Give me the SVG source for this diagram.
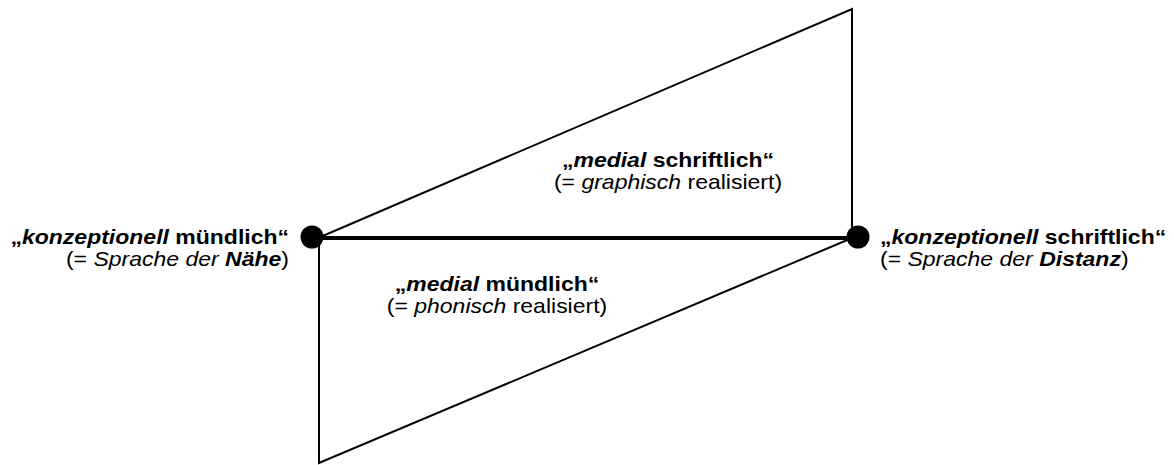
<svg xmlns="http://www.w3.org/2000/svg" width="1174" height="465" viewBox="0 0 1174 465">
  <style>
    .edge { stroke: #000; stroke-width: 2; fill: none; }
    .axis { stroke: #000; stroke-width: 4; fill: none; }
    .dot { fill: #000; }
    text { font-family: "Liberation Sans", Arial, sans-serif; font-size: 20px; fill: #000; }
    .b { font-weight: bold; }
    .i { font-style: italic; }
  </style>
  <rect width="1174" height="465" fill="#fff"/>

  <!-- outline of the two triangles and the central axis -->
  <g id="connectors">
    <polyline class="edge" points="318,238 852,9 852,238"/>
    <polyline class="edge" points="319,238 319,463 852,238"/>
    <line class="axis" x1="312" y1="238" x2="858" y2="238"/>
  </g>

  <!-- labels use a slightly widened sans face -->
  <g id="node-left">
    <circle class="dot" cx="312" cy="237" r="11.5"/>
    <g transform="translate(289,0) scale(1.15,1)">
      <text x="0" y="244" text-anchor="end" class="b">„<tspan class="i">konzeptionell</tspan> mündlich“</text>
      <text x="0" y="266.5" text-anchor="end">(= <tspan class="i">Sprache der </tspan><tspan class="i b">Nähe</tspan>)</text>
    </g>
  </g>

  <g id="node-right">
    <circle class="dot" cx="858" cy="237" r="11.5"/>
    <g transform="translate(880,0) scale(1.15,1)">
      <text x="0" y="244" class="b">„<tspan class="i">konzeptionell</tspan> schriftlich“</text>
      <text x="0" y="266.5">(= <tspan class="i">Sprache der </tspan><tspan class="i b">Distanz</tspan>)</text>
    </g>
  </g>

  <g id="label-medial-schriftlich" transform="translate(668,0) scale(1.15,1)">
    <text x="0" y="167" text-anchor="middle" class="b">„<tspan class="i">medial</tspan> schriftlich“</text>
    <text x="0" y="189.5" text-anchor="middle">(= <tspan class="i">graphisch</tspan> realisiert)</text>
  </g>

  <g id="label-medial-muendlich" transform="translate(497,0) scale(1.15,1)">
    <text x="0" y="291" text-anchor="middle" class="b">„<tspan class="i">medial</tspan> mündlich“</text>
    <text x="0" y="313.5" text-anchor="middle">(= <tspan class="i">phonisch</tspan> realisiert)</text>
  </g>
</svg>
